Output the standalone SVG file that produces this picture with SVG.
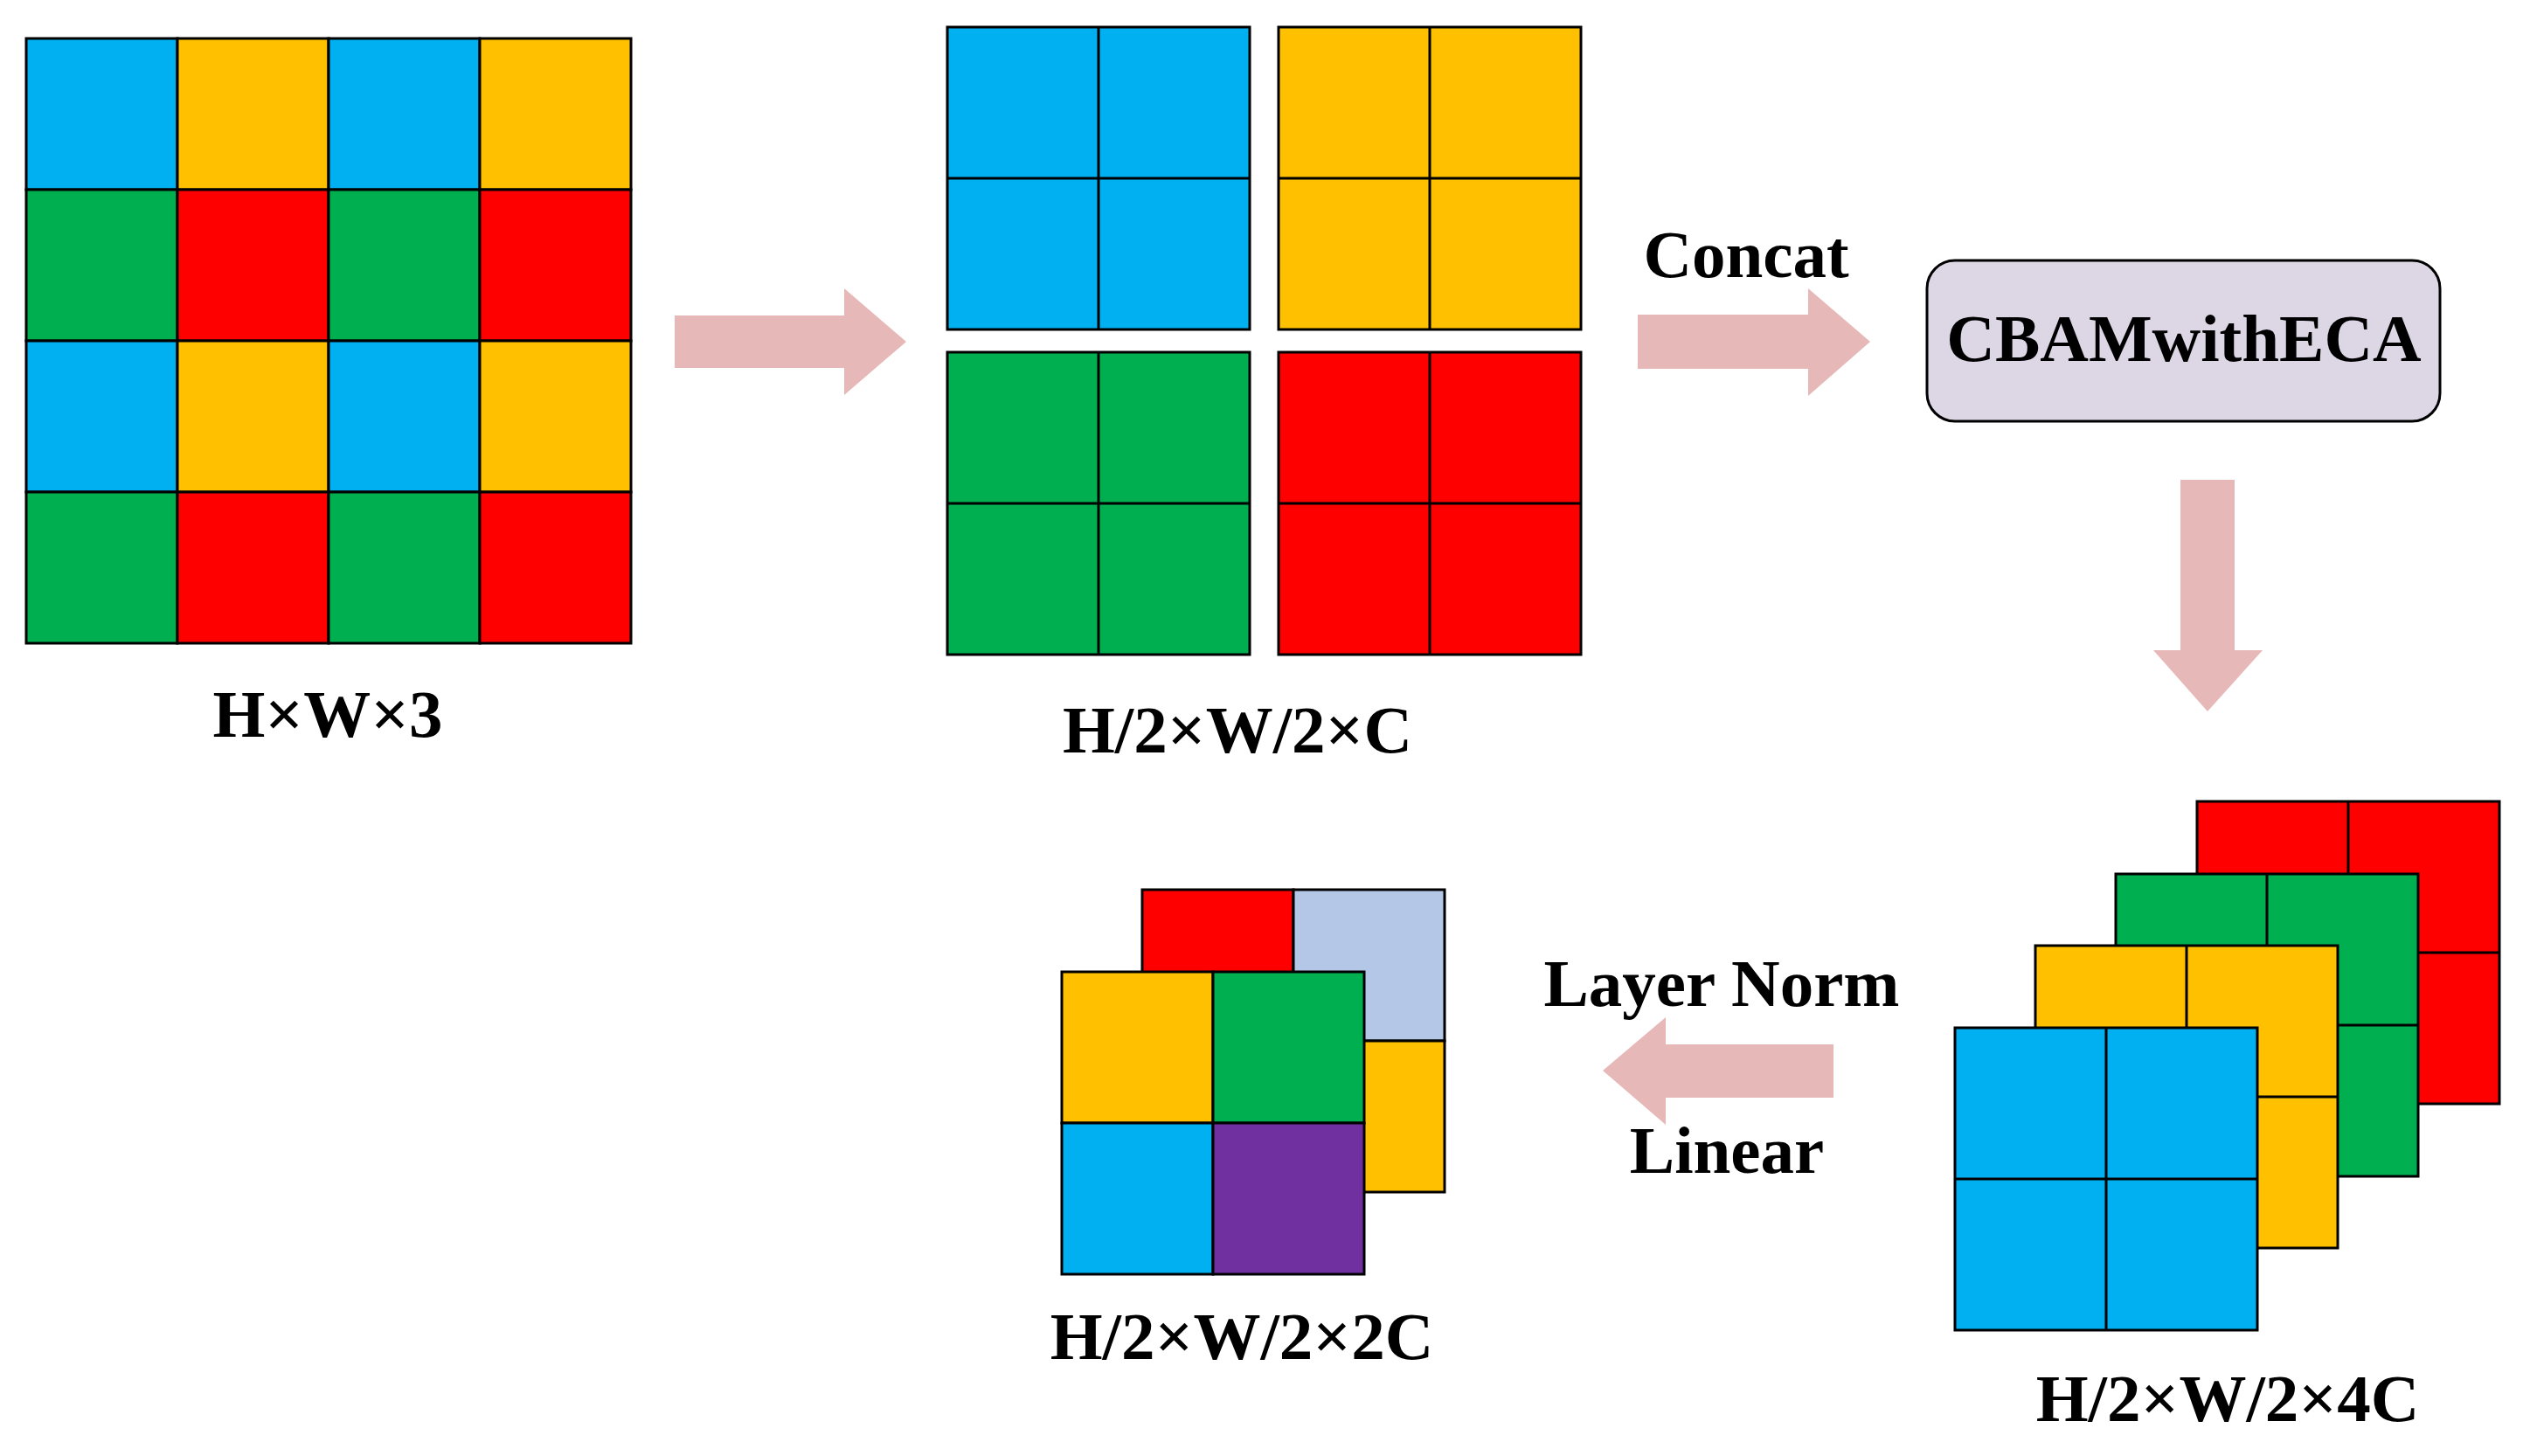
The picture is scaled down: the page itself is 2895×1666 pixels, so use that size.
<svg xmlns="http://www.w3.org/2000/svg" width="2895" height="1666" viewBox="0 0 2895 1666">
<style>
.c{stroke:#000;stroke-width:3}
.b{fill:#00B0F0}.y{fill:#FFC000}.g{fill:#00B050}.r{fill:#FF0000}.p{fill:#7030A0}.lb{fill:#B4C7E7}
.ln{stroke:#000;stroke-width:3;fill:none}
.arr{fill:#E6B9B8}
.t{font-family:"Liberation Serif","Times New Roman",serif;font-weight:bold;font-size:77px;fill:#000;text-anchor:middle}
</style>
<rect width="2895" height="1666" fill="#fff"/>
<g id="input-grid">
<rect class="c b" x="30" y="44" width="173" height="173"/><rect class="c y" x="203" y="44" width="173" height="173"/><rect class="c b" x="376" y="44" width="173" height="173"/><rect class="c y" x="549" y="44" width="173" height="173"/>
<rect class="c g" x="30" y="217" width="173" height="173"/><rect class="c r" x="203" y="217" width="173" height="173"/><rect class="c g" x="376" y="217" width="173" height="173"/><rect class="c r" x="549" y="217" width="173" height="173"/>
<rect class="c b" x="30" y="390" width="173" height="173"/><rect class="c y" x="203" y="390" width="173" height="173"/><rect class="c b" x="376" y="390" width="173" height="173"/><rect class="c y" x="549" y="390" width="173" height="173"/>
<rect class="c g" x="30" y="563" width="173" height="173"/><rect class="c r" x="203" y="563" width="173" height="173"/><rect class="c g" x="376" y="563" width="173" height="173"/><rect class="c r" x="549" y="563" width="173" height="173"/>
<text class="t" x="375" y="843">H×W×3</text>
</g>
<g id="split-blocks">
<rect class="c b" x="1084" y="31" width="346" height="346"/><path class="ln" d="M1257,31V377M1084,204H1430"/>
<rect class="c y" x="1463" y="31" width="346" height="346"/><path class="ln" d="M1636,31V377M1463,204H1809"/>
<rect class="c g" x="1084" y="403" width="346" height="346"/><path class="ln" d="M1257,403V749M1084,576H1430"/>
<rect class="c r" x="1463" y="403" width="346" height="346"/><path class="ln" d="M1636,403V749M1463,576H1809"/>
<text class="t" x="1416" y="861">H/2×W/2×C</text>
</g>
<g id="cbam">
<rect x="2205" y="298" width="587" height="184" rx="32" ry="32" fill="#DDD7E5" stroke="#000" stroke-width="3"/>
<text class="t" x="2499" y="413">CBAMwithECA</text>
</g>
<g id="stack-4c">
<rect class="c r" x="2514" y="917" width="346" height="346"/><path class="ln" d="M2687,917V1263M2514,1090H2860"/>
<rect class="c g" x="2421" y="1000" width="346" height="346"/><path class="ln" d="M2594,1000V1346M2421,1173H2767"/>
<rect class="c y" x="2329" y="1082" width="346" height="346"/><path class="ln" d="M2502,1082V1428M2329,1255H2675"/>
<rect class="c b" x="2237" y="1176" width="346" height="346"/><path class="ln" d="M2410,1176V1522M2237,1349H2583"/>
<text class="t" x="2549" y="1626">H/2×W/2×4C</text>
</g>
<g id="merged-2c">
<rect class="c r" x="1307" y="1018" width="173" height="173"/><rect class="c lb" x="1480" y="1018" width="173" height="173"/>
<rect class="c y" x="1480" y="1191" width="173" height="173"/><rect class="c y" x="1307" y="1191" width="173" height="173"/>
<rect class="c y" x="1215" y="1112" width="173" height="173"/><rect class="c g" x="1388" y="1112" width="173" height="173"/>
<rect class="c b" x="1215" y="1285" width="173" height="173"/><rect class="c p" x="1388" y="1285" width="173" height="173"/>
<text class="t" x="1421" y="1555">H/2×W/2×2C</text>
</g>
<g id="connectors">
<polygon class="arr" points="772,361 966,361 966,330 1037,391 966,452 966,421 772,421"/>
<polygon class="arr" points="1874,360 2069,360 2069,330 2140,391 2069,453 2069,422 1874,422"/>
<text class="t" x="1998" y="317">Concat</text>
<polygon class="arr" points="2495,549 2557,549 2557,744 2589,744 2526,814 2464,744 2495,744"/>
<polygon class="arr" points="2098,1195 1906,1195 1906,1164 1834,1225 1906,1287 1906,1256 2098,1256"/>
<text class="t" x="1970" y="1151">Layer Norm</text>
<text class="t" x="1976" y="1342">Linear</text>
</g>
</svg>
